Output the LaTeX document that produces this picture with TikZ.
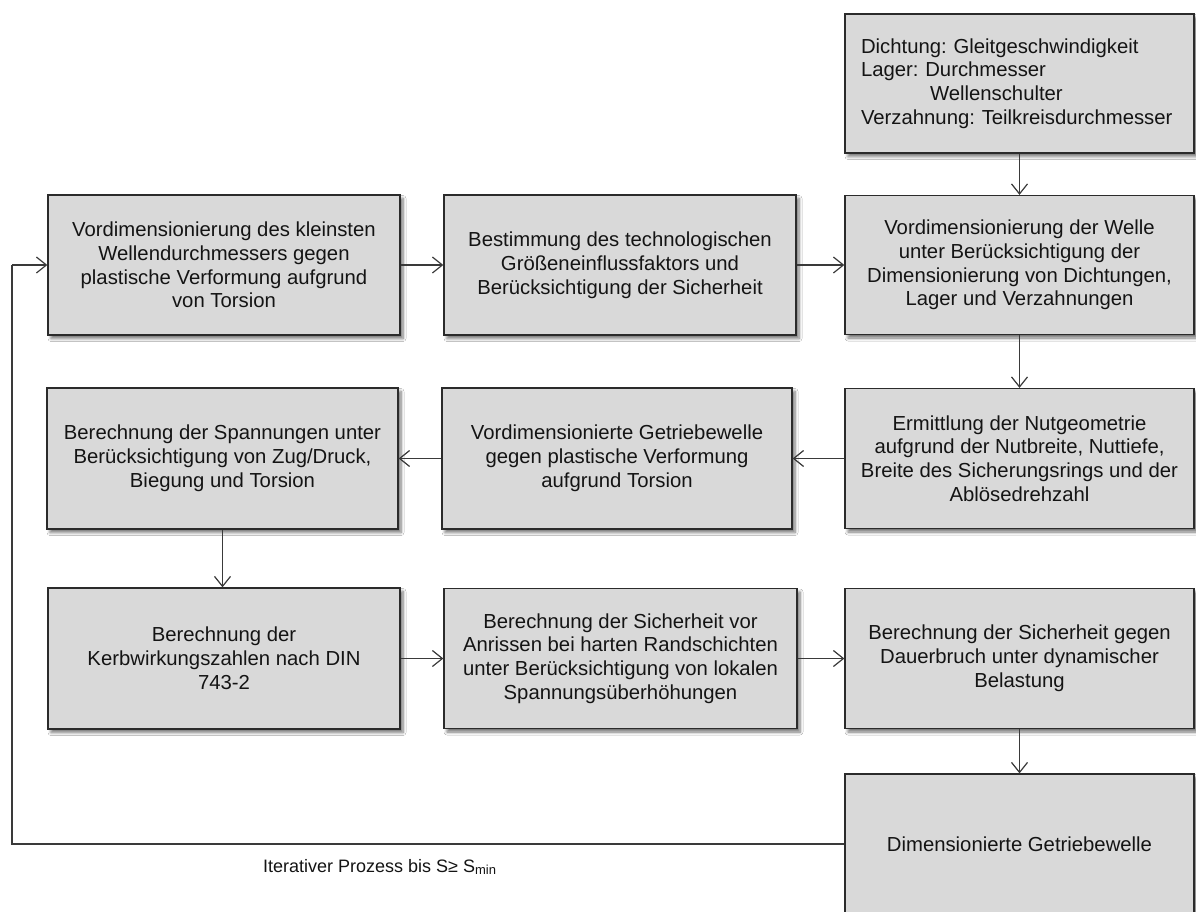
\documentclass[tikz,border=0pt]{standalone}
\usepackage{fontspec}
\setmainfont{Liberation Sans}
\usetikzlibrary{arrows.meta,shadows.blur}

\definecolor{boxfill}{HTML}{D9D9D9}
\definecolor{boxline}{HTML}{2B2B2B}
\definecolor{conn}{HTML}{3A3A3A}
\definecolor{txt}{HTML}{141414}

\tikzset{
  stepbox/.style={
    draw=boxline, line width=1.3pt, fill=boxfill, rectangle,
    inner sep=0pt, align=center, text=txt,
    font=\fontsize{20.3}{23.8}\selectfont,
    blur shadow={shadow xshift=3pt, shadow yshift=-3.5pt,
                 shadow blur radius=3pt, shadow blur steps=6,
                 shadow opacity=55}
  },
  flow/.style={draw=conn, line width=1.2pt,
    -{Straight Barb[length=10pt,width=16pt,line width=1.2pt]}},
  plain/.style={draw=conn, line width=1.2pt}
}

\begin{document}
\frenchspacing
\begin{tikzpicture}[x=1pt,y=-1pt]
  \clip (0,0) rectangle (1196,911);
  \fill[white] (0,0) rectangle (1196,911);

  % input data for the shaft
  \node[stepbox, align=left, text width=317pt, inner xsep=16pt,
        minimum height=139pt] (T) at (1019.5,83.5)
    {Dichtung: Gleitgeschwindigkeit\\
     Lager: Durchmesser\\
     \hspace*{69pt}Wellenschulter\\
     Verzahnung: Teilkreisdurchmesser};

  % first row
  \node[stepbox, minimum width=352pt, minimum height=140pt] (A) at (224,265)
    {Vordimensionierung des kleinsten\\
     Wellendurchmessers gegen\\
     plastische Verformung aufgrund\\
     von Torsion};
  \node[stepbox, minimum width=352pt, minimum height=140pt] (B) at (620,265)
    {Bestimmung des technologischen\\
     Größeneinflussfaktors und\\
     Berücksichtigung der Sicherheit};
  \node[stepbox, minimum width=349pt, minimum height=139pt] (C) at (1019.5,265)
    {Vordimensionierung der Welle\\
     unter Berücksichtigung der\\
     Dimensionierung von Dichtungen,\\
     Lager und Verzahnungen};

  % second row
  \node[stepbox, minimum width=351pt, minimum height=141pt] (D) at (222.5,458.5)
    {Berechnung der Spannungen unter\\
     Berücksichtigung von Zug/Druck,\\
     Biegung und Torsion};
  \node[stepbox, minimum width=350pt, minimum height=141pt] (E) at (617,458.5)
    {Vordimensionierte Getriebewelle\\
     gegen plastische Verformung\\
     aufgrund Torsion};
  \node[stepbox, minimum width=349pt, minimum height=140pt] (F) at (1019.5,458.5)
    {Ermittlung der Nutgeometrie\\
     aufgrund der Nutbreite, Nuttiefe,\\
     Breite des Sicherungsrings und der\\
     Ablösedrehzahl};

  % third row
  \node[stepbox, minimum width=352pt, minimum height=141pt] (G) at (224,658.5)
    {Berechnung der\\
     Kerbwirkungszahlen nach DIN\\
     743-2};
  \node[stepbox, minimum width=353pt, minimum height=140pt] (H) at (620.5,658.5)
    {Berechnung der Sicherheit vor\\
     Anrissen bei harten Randschichten\\
     unter Berücksichtigung von lokalen\\
     Spannungsüberhöhungen};
  \node[stepbox, minimum width=349pt, minimum height=140pt] (I) at (1019.5,658.5)
    {Berechnung der Sicherheit gegen\\
     Dauerbruch unter dynamischer\\
     Belastung};

  % result (runs past the lower edge)
  \node[stepbox, minimum width=349pt, minimum height=140pt] (J) at (1019.5,844)
    {Dimensionierte Getriebewelle};

  % connectors
  \draw[flow] (T.south) -- (C.north);
  \draw[flow] (A.east) -- (B.west);
  \draw[flow] (B.east) -- (C.west);
  \draw[flow] (C.south) -- (F.north);
  \draw[flow] (F.west) -- (E.east);
  \draw[flow] (E.west) -- (D.east);
  \draw[flow] (D.south) -- (D.south |- G.north);
  \draw[flow] (G.east) -- (H.west);
  \draw[flow] (H.east) -- (I.west);
  \draw[flow] (I.south) -- (J.north);

  % iteration loop back to the first step
  \coordinate (loopLow) at (12,844);
  \coordinate (loopHigh) at (12,265);
  \draw[plain] (J.west) -- (loopLow) -- (loopHigh);
  \draw[flow] (loopHigh) -- (A.west);

  \node[text=txt, font=\fontsize{18}{20}\selectfont, anchor=west, inner sep=0pt]
    (iterlabel) at (263,867)
    {Iterativer Prozess bis S≥ S\raisebox{-0.3ex}{\fontsize{13}{13}\selectfont min}};
\end{tikzpicture}
\end{document}
